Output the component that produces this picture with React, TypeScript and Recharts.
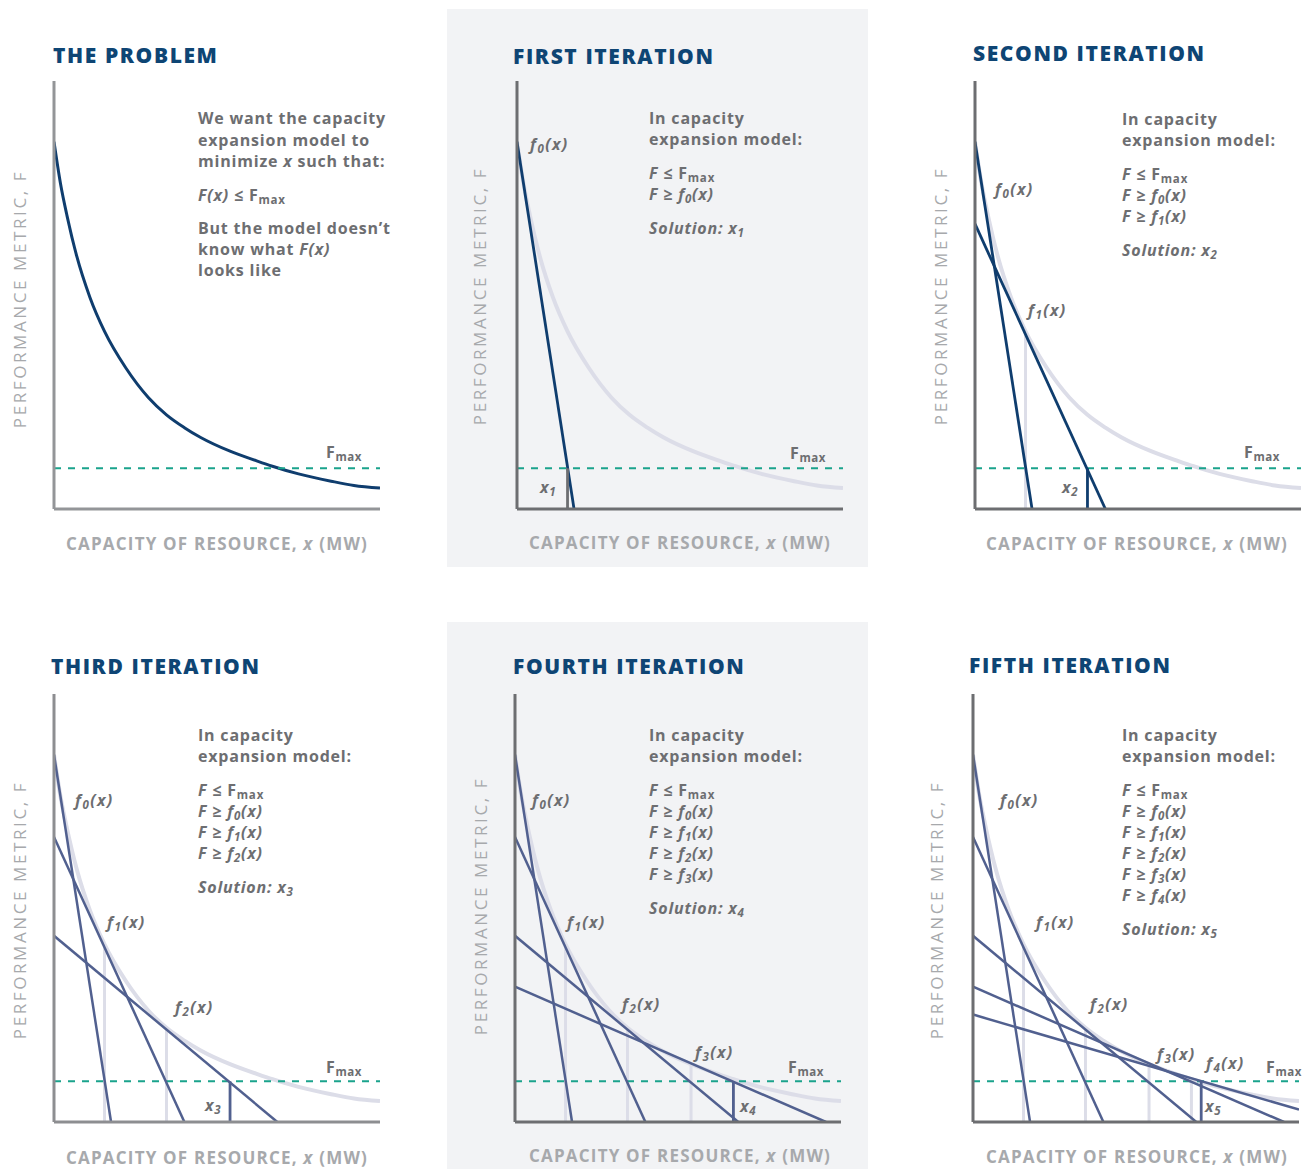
import React from 'react'
import { LineChart, Line, XAxis, YAxis, ReferenceLine } from 'recharts'

// F(x) (x and F both on a 0-100 scale)
const curveX = [0, 2, 4, 7, 11, 15.5, 22, 29, 34.5, 40, 45, 54, 62, 67, 75, 85, 92, 100]
const curveY = [85.8, 76, 68.5, 59, 49.5, 41.5, 33, 26, 22, 19, 16.7, 13.5, 11.3, 10, 8.2, 6.5, 5.5, 4.9]
const fMax = 9.5

// linear cuts f0..f4: value at x = 0 and the right end point
const cutLeftY = [85.8, 66.6, 43.5, 31.6, 25.1]
const cutRightX = [17.5, 40, 68.5, 95.4, 100]
const cutRightY = [0, 0, 0, 0, 2.9]

// solutions x1..x5 and F at the points where the next cut touches
const solutionX = [15.5, 34.5, 54, 67, 70]
const touchY = [41.5, 22, 13.5, 10.2]

const titles = ['THE PROBLEM', 'FIRST ITERATION', 'SECOND ITERATION', 'THIRD ITERATION', 'FOURTH ITERATION', 'FIFTH ITERATION']

const curve = curveX.map((x, i) => ({ x, y: curveY[i] }))
const cuts = cutLeftY.map((y, i) => [{ x: 0, y }, { x: cutRightX[i], y: cutRightY[i] }])

const PLOT_W = 326
const PLOT_H = 428
const NAVY = '#0f3d6e'
const SLATE = '#51608f'
const LIGHT = '#dcdde8'
const TEAL = '#1aa38c'
const GRAY = '#6d6e71'
const LABEL = '#a7a9ac'
const TITLE = '#0e4574'
const FONT = "'Open Sans', sans-serif"

const layout = [
  { left: 54, top: 81, titleX: 53, titleY: 55, yLab: [20, 299], xLab: [217, 544], note: [198, 118], axis: '#939598',
    fLabels: [], fmax: [326, 452], sol: [0, 0] },
  { left: 517, top: 81, titleX: 513, titleY: 56, yLab: [480, 296], xLab: [680, 543], note: [649, 118], axis: '#6d6e71',
    fLabels: [[530, 144]], fmax: [790, 453], sol: [540, 487] },
  { left: 975, top: 81, titleX: 973, titleY: 53, yLab: [941, 296], xLab: [1137, 544], note: [1122, 119], axis: '#6d6e71',
    fLabels: [[995, 189], [1028, 310]], fmax: [1244, 452], sol: [1062, 487] },
  { left: 54, top: 694, titleX: 51, titleY: 666, yLab: [20, 910], xLab: [217, 1158], note: [198, 735], axis: '#8d8e91',
    fLabels: [[75, 800], [107, 922], [175, 1007]], fmax: [326, 1067], sol: [205, 1105] },
  { left: 515, top: 694, titleX: 513, titleY: 666, yLab: [481, 906], xLab: [680, 1156], note: [649, 735], axis: '#6d6e71',
    fLabels: [[532, 800], [567, 922], [622, 1004], [695, 1052]], fmax: [788, 1067], sol: [740, 1106] },
  { left: 973, top: 694, titleX: 969, titleY: 665, yLab: [937, 910], xLab: [1137, 1157], note: [1122, 735], axis: '#6d6e71',
    fLabels: [[1000, 800], [1036, 922], [1090, 1004], [1157, 1054], [1206, 1063]], fmax: [1266, 1067], sol: [1205, 1106] },
]

const Sub = ({ children }: { children: React.ReactNode }) => (
  <span style={{ fontSize: '0.72em', position: 'relative', top: '0.3em' }}>{children}</span>
)

function T({ x, y, size = 16, color = GRAY, weight = 700, italic = false, spacing = 0.8, middle = false, children }: any) {
  const lh = Math.round(size * 1.4)
  return (
    <div
      style={{
        position: 'absolute', left: x, top: y - lh / 2, fontSize: size, lineHeight: `${lh}px`, color,
        fontWeight: weight, fontStyle: italic ? 'italic' : 'normal', letterSpacing: spacing,
        whiteSpace: 'nowrap', transform: middle ? 'translateX(-50%)' : undefined,
      }}
    >
      {children}
    </div>
  )
}

const FLab = ({ k }: { k: number }) => (
  <i>f<Sub>{k}</Sub>(x)</i>
)

const FmaxText = () => (
  <span>F<Sub>max</Sub></span>
)

function PanelChart({ i }: { i: number }) {
  const p = layout[i]
  const pad = 8
  const lineColor = i < 3 ? NAVY : SLATE
  const solColor = i === 1 ? GRAY : lineColor
  return (
    <div style={{ position: 'absolute', left: p.left - pad, top: p.top - pad }}>
      <LineChart width={PLOT_W + 2 * pad} height={PLOT_H + 2 * pad} margin={{ top: pad, right: pad, bottom: pad - 1, left: pad - 1 }}>
        <XAxis type="number" dataKey="x" domain={[0, 100]} allowDataOverflow tick={false} tickLine={false} height={1}
          axisLine={{ stroke: p.axis, strokeWidth: 3 }} />
        <YAxis type="number" domain={[0, 100]} allowDataOverflow tick={false} tickLine={false} width={1}
          axisLine={{ stroke: p.axis, strokeWidth: 3 }} />
        <Line data={curve} dataKey="y" type="monotone" stroke={i === 0 ? NAVY : LIGHT} strokeWidth={i === 0 ? 3 : 4}
          dot={false} activeDot={false} isAnimationActive={false} />
        {solutionX.slice(0, Math.max(i - 1, 0)).map((sx, j) => (
          <Line key={'t' + j} data={[{ x: sx, y: 0 }, { x: sx, y: touchY[j] }]} dataKey="y" type="linear"
            stroke={LIGHT} strokeWidth={3} dot={false} activeDot={false} isAnimationActive={false} />
        ))}
        <ReferenceLine y={fMax} stroke={TEAL} strokeWidth={2} strokeDasharray="7 7" />
        {cuts.slice(0, i).map((c, j) => (
          <Line key={'c' + j} data={c} dataKey="y" type="linear" stroke={lineColor} strokeWidth={i < 3 ? 2.8 : 2.5}
            dot={false} activeDot={false} isAnimationActive={false} />
        ))}
        {i > 0 && (
          <Line data={[{ x: solutionX[i - 1], y: 0 }, { x: solutionX[i - 1], y: fMax }]} dataKey="y" type="linear"
            stroke={solColor} strokeWidth={2.8} dot={false} activeDot={false} isAnimationActive={false} />
        )}
      </LineChart>
    </div>
  )
}

function Notes({ i }: { i: number }) {
  const [x, y0] = layout[i].note
  if (i === 0) {
    return (
      <>
        <T x={x} y={118}>We want the capacity</T>
        <T x={x} y={140}>expansion model to</T>
        <T x={x} y={161}>minimize <i>x</i> such that:</T>
        <T x={x} y={195}><i>F(x)</i> ≤ <FmaxText /></T>
        <T x={x} y={228}>But the model doesn’t</T>
        <T x={x} y={249}>know what <i>F(x)</i></T>
        <T x={x} y={270}>looks like</T>
      </>
    )
  }
  const rows = []
  for (let j = 0; j < i; j++) rows.push(j)
  const last = y0 + 55 + 21 * i
  return (
    <>
      <T x={x} y={y0}>In capacity</T>
      <T x={x} y={y0 + 21}>expansion model:</T>
      <T x={x} y={y0 + 55}><i>F</i> ≤ <FmaxText /></T>
      {rows.map((j) => (
        <T key={j} x={x} y={y0 + 55 + 21 * (j + 1)}><i>F</i> ≥ <FLab k={j} /></T>
      ))}
      <T x={x} y={last + 34} italic>Solution: x<Sub>{i}</Sub></T>
    </>
  )
}

function PanelText({ i }: { i: number }) {
  const p = layout[i]
  return (
    <>
      <T x={p.titleX} y={p.titleY} size={21} weight={800} color={TITLE} spacing={1.6}>{titles[i]}</T>
      <Notes i={i} />
      {p.fLabels.map(([lx, ly], j) => (
        <T key={j} x={lx} y={ly} size={16} spacing={1.4}><FLab k={j} /></T>
      ))}
      <T x={p.fmax[0]} y={p.fmax[1]} size={16} spacing={0.6}><FmaxText /></T>
      {i > 0 && (
        <T x={p.sol[0]} y={p.sol[1]} size={16} italic>x<Sub>{i}</Sub></T>
      )}
      <T x={p.xLab[0]} y={p.xLab[1]} size={17} color={LABEL} spacing={1.2} middle>
        CAPACITY OF RESOURCE, <i>x</i> (MW)
      </T>
      <div
        style={{
          position: 'absolute', left: p.yLab[0], top: p.yLab[1], transform: 'translate(-50%, -50%) rotate(-90deg)',
          fontSize: 17, lineHeight: '20px', color: LABEL, letterSpacing: 2.6, whiteSpace: 'nowrap', fontWeight: 400,
        }}
      >
        PERFORMANCE METRIC, F
      </div>
    </>
  )
}

export default function App() {
  const idx = [0, 1, 2, 3, 4, 5]
  return (
    <div style={{ position: 'absolute', left: 0, top: 0, width: 1312, height: 1169, background: '#fff', overflow: 'hidden', fontFamily: FONT }}>
      <div style={{ position: 'absolute', left: 447, top: 9, width: 421, height: 558, background: '#f2f3f5' }} />
      <div style={{ position: 'absolute', left: 447, top: 622, width: 421, height: 547, background: '#f2f3f5' }} />
      {idx.map((i) => <PanelChart key={i} i={i} />)}
      {idx.map((i) => <PanelText key={'t' + i} i={i} />)}
    </div>
  )
}
